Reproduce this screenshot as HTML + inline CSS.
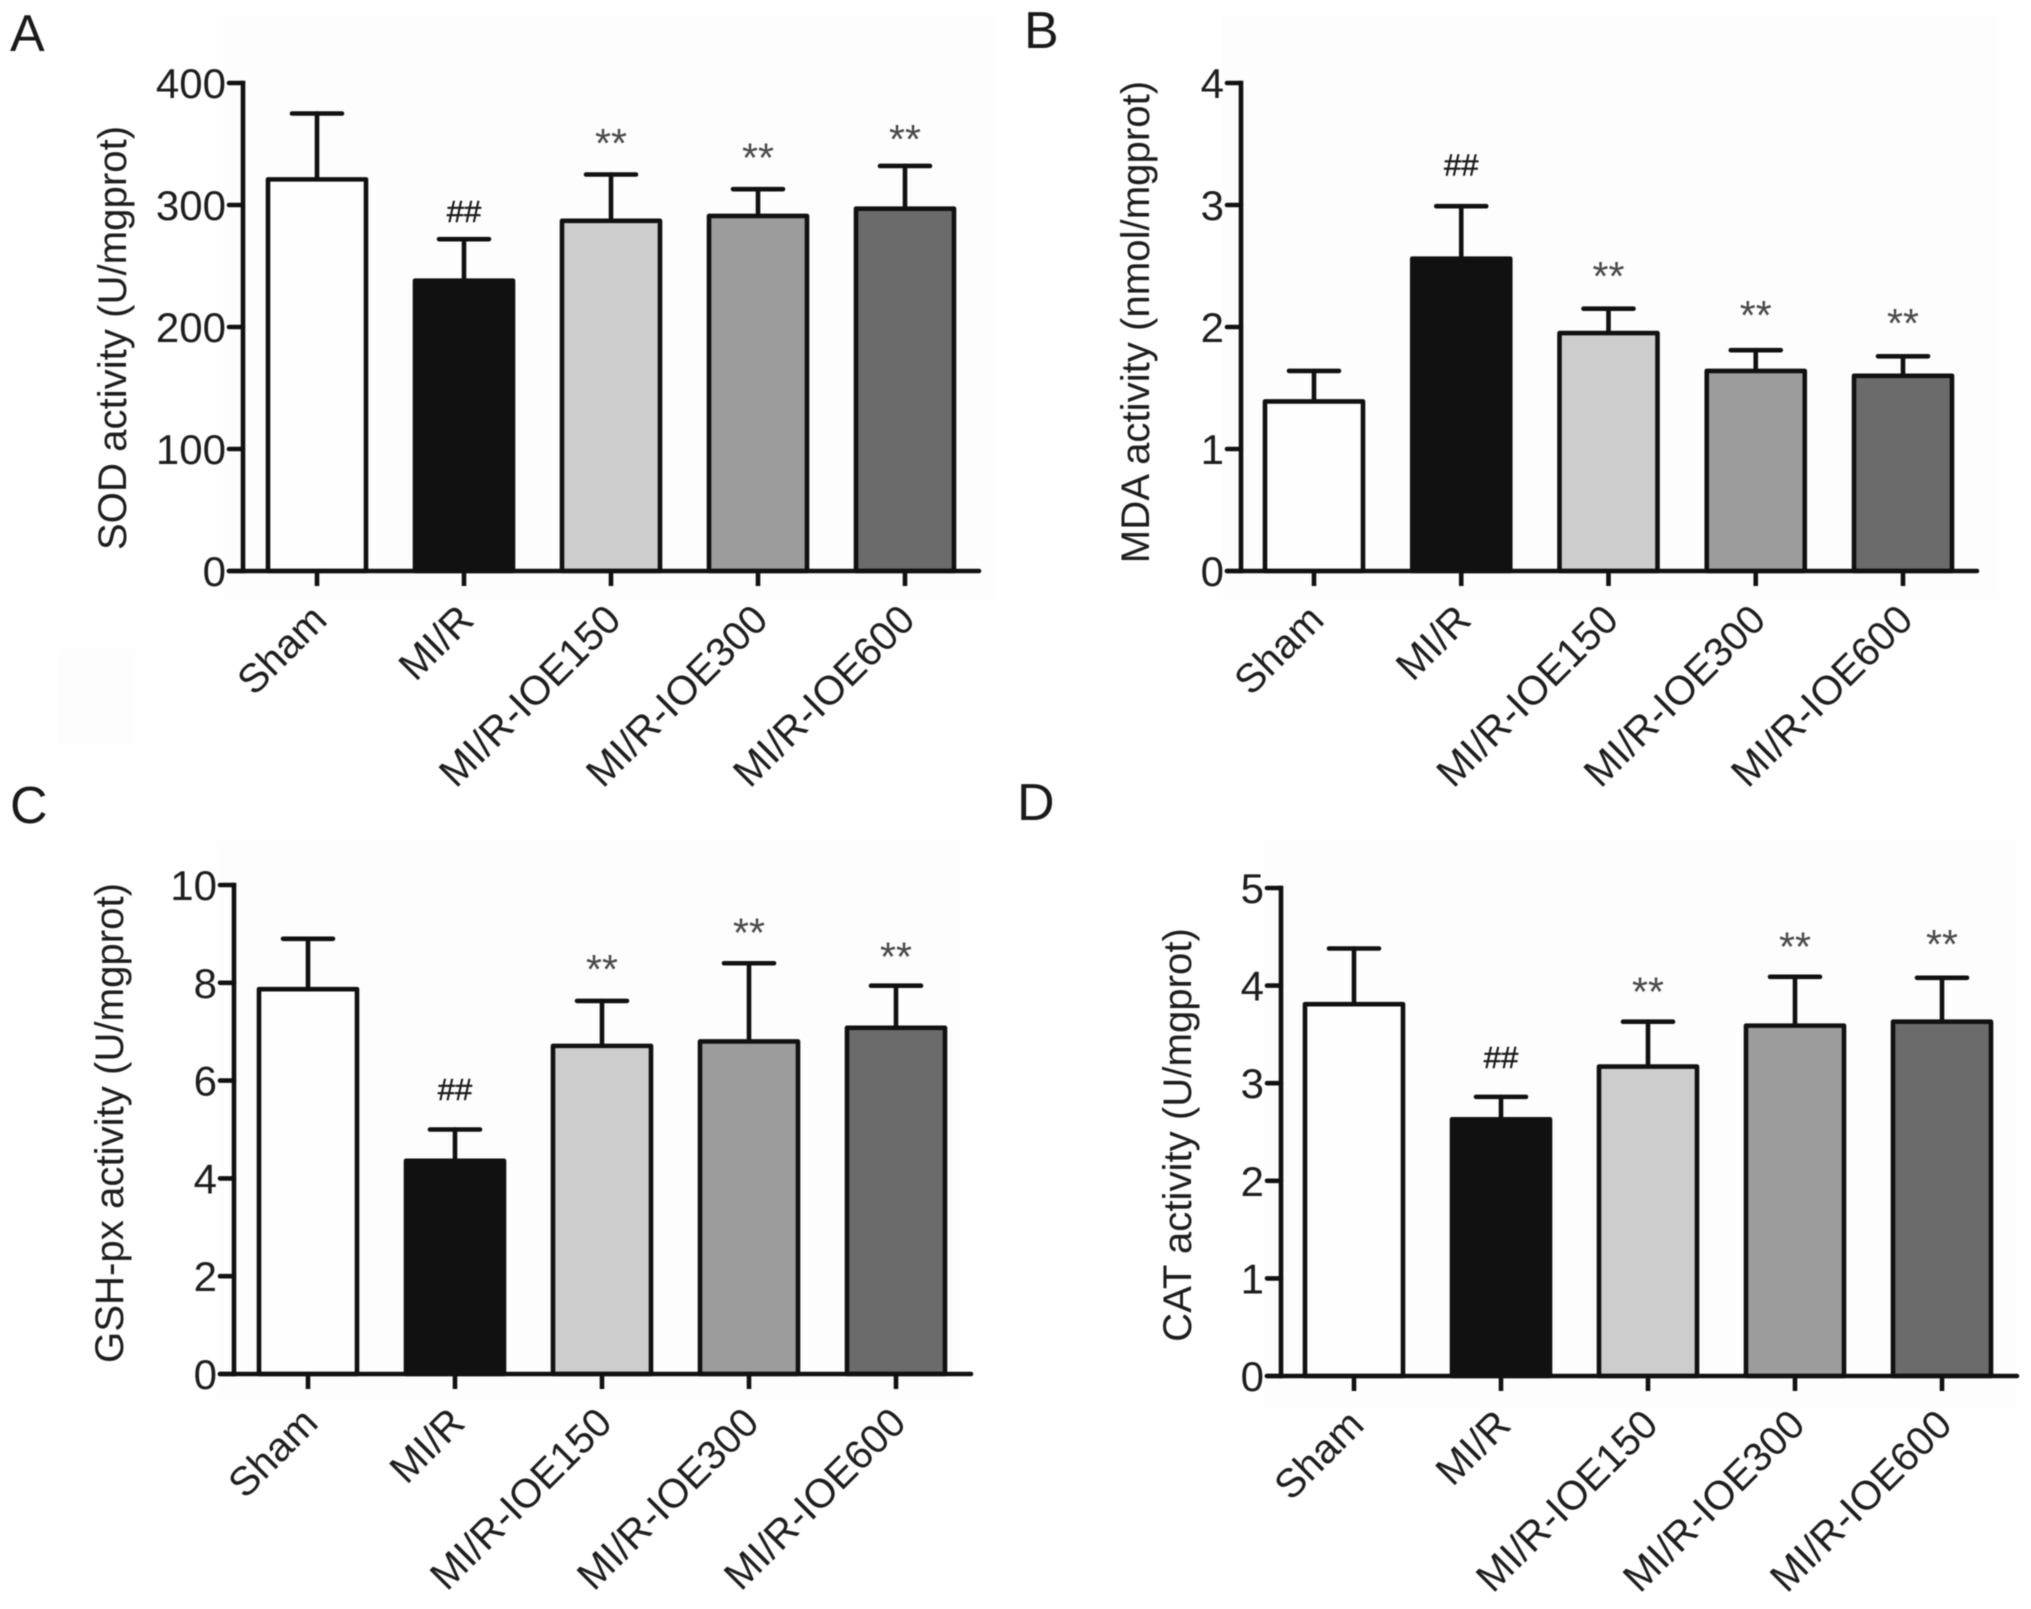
<!DOCTYPE html>
<html lang="en">
<head>
<meta charset="utf-8">
<title>Antioxidant activity bar charts</title>
<style>
html,body{margin:0;padding:0;background:#fff}
#figure{display:block;width:2031px;height:1609px;filter:blur(.55px)}
text{font-family:"Liberation Sans",Arial,sans-serif}
</style>
</head>
<body>
<svg id="figure" xmlns="http://www.w3.org/2000/svg" width="2031" height="1609" viewBox="0 0 2031 1609">
  <rect x="0" y="0" width="2031" height="1609" fill="#ffffff"/>
  <rect x="58" y="649" width="77" height="96" fill="#fdfdfd"/>
  <text x="10" y="51" font-size="52" fill="#1a1a1a">A</text>
  <text x="1024" y="48" font-size="52" fill="#1a1a1a">B</text>
  <text x="10" y="823" font-size="52" fill="#1a1a1a">C</text>
  <text x="1017" y="820" font-size="52" fill="#1a1a1a">D</text>
</svg>
<script>
var categories = ['Sham', 'MI/R', 'MI/R-IOE150', 'MI/R-IOE300', 'MI/R-IOE600'];
var barFills = ['#fefefe', '#111111', '#cdcdcd', '#9c9c9c', '#6b6b6b'];
var markers = ['', '##', '**', '**', '**'];

var sodTicks = [0, 100, 200, 300, 400];
var sodMeans = [321, 238, 287, 291, 297];
var sodErrorTops = [375, 272, 325, 313, 332];
var sodMarkerLevels = [0, 295, 355, 343, 358];

var mdaTicks = [0, 1, 2, 3, 4];
var mdaMeans = [1.39, 2.56, 1.95, 1.64, 1.60];
var mdaErrorTops = [1.64, 2.99, 2.15, 1.81, 1.76];
var mdaMarkerLevels = [0, 3.33, 2.46, 2.14, 2.075];

var gshTicks = [0, 2, 4, 6, 8, 10];
var gshMeans = [7.87, 4.36, 6.71, 6.80, 7.08];
var gshErrorTops = [8.90, 5.00, 7.63, 8.40, 7.94];
var gshMarkerLevels = [0, 5.83, 8.38, 9.13, 8.64];

var catTicks = [0, 1, 2, 3, 4, 5];
var catMeans = [3.81, 2.63, 3.17, 3.59, 3.63];
var catErrorTops = [4.38, 2.86, 3.63, 4.09, 4.08];
var catMarkerLevels = [0, 3.27, 3.99, 4.45, 4.48];

var SVG_NS = 'http://www.w3.org/2000/svg';
var figure = document.getElementById('figure');
var INK = '#111111';
var TEXT_INK = '#1e1e1e';
var LINE_WIDTH = 4.6;

function make(parent, tag, attrs, content) {
  var el = document.createElementNS(SVG_NS, tag);
  for (var key in attrs) el.setAttribute(key, attrs[key]);
  if (content !== undefined) el.textContent = content;
  parent.appendChild(el);
  return el;
}

function drawLine(parent, x1, y1, x2, y2, cap) {
  return make(parent, 'line', {
    x1: x1, y1: y1, x2: x2, y2: y2,
    stroke: INK, 'stroke-width': LINE_WIDTH, 'stroke-linecap': cap || 'round'
  });
}

function drawPanel(key, layout, title, ticks, means, errorTops, markerLevels) {
  var maxTick = ticks[ticks.length - 1];
  function yScale(v) { return layout.y0 - (v / maxTick) * (layout.y0 - layout.yTop); }
  function xScale(i) { return layout.x0 + i * layout.step; }

  var group = make(figure, 'g', {});
  
  

  var backdrop = make(group, 'rect', {
    x: layout.bgX, y: layout.bgY, width: layout.bgW, height: layout.bgH, fill: '#fdfdfd'
  });
  
  

  means.forEach(function (mean, i) {
    var cx = xScale(i);
    var top = yScale(mean);
    var errTop = yScale(errorTops[i]);

    var whisker = drawLine(group, cx, top, cx, errTop);
    
    

    var cap = drawLine(group, cx - 25, errTop, cx + 25, errTop);
    
    

    var bar = make(group, 'rect', {
      x: cx - 49, y: top, width: 98, height: layout.y0 - top,
      fill: barFills[i], stroke: INK, 'stroke-width': LINE_WIDTH, 'stroke-linejoin': 'round'
    });
    
    

    if (markers[i]) {
      var isHash = markers[i] === '##';
      var size = isHash ? 31 : 41;
      var marker = make(group, 'text', {
        x: cx,
        y: yScale(markerLevels[i]) + (isHash ? 11 : 19),
        'font-size': size,
        'text-anchor': 'middle',
        fill: isHash ? '#1c1c1c' : '#4a4a4a',
        stroke: isHash ? '#1c1c1c' : 'none',
        'stroke-width': isHash ? 0.5 : 0
      }, markers[i]);
      
      
    }

    var xTick = drawLine(group, cx, layout.y0, cx, layout.y0 + 15, 'butt');
    
    

    var lx = cx + 12;
    var ly = layout.y0 + 51;
    var label = make(group, 'text', {
      x: lx, y: ly,
      'font-size': 40.5,
      'text-anchor': 'end',
      fill: TEXT_INK,
      transform: 'rotate(-45 ' + lx + ' ' + ly + ')'
    }, categories[i]);
    
    
  });

  var yAxis = drawLine(group, layout.axisX, yScale(maxTick), layout.axisX, layout.y0, 'square');
  
  

  var xAxis = drawLine(group, layout.axisX - 14, layout.y0, layout.xEnd, layout.y0);
  
  

  ticks.forEach(function (tick) {
    var ty = yScale(tick);
    var yTick = drawLine(group, layout.axisX - 14, ty, layout.axisX, ty);
    
    

    var tickLabel = make(group, 'text', {
      x: layout.axisX - 17, y: ty + 15,
      'font-size': 42,
      'text-anchor': 'end',
      fill: TEXT_INK
    }, String(tick));
    
    
  });

  var yTitle = make(group, 'text', {
    x: layout.titleX, y: layout.titleY,
    'font-size': 40.2,
    'text-anchor': 'middle',
    fill: TEXT_INK,
    transform: 'rotate(-90 ' + layout.titleX + ' ' + layout.titleY + ')'
  }, title);
  
  
}

drawPanel('a',
  { x0: 317, step: 147, y0: 571, yTop: 83, axisX: 243, xEnd: 979, titleX: 126, titleY: 338,
    bgX: 223, bgY: 15, bgW: 773, bgH: 584 },
  'SOD activity (U/mgprot)', sodTicks, sodMeans, sodErrorTops, sodMarkerLevels);

drawPanel('b',
  { x0: 1314, step: 147.25, y0: 571, yTop: 83, axisX: 1241, xEnd: 1977, titleX: 1149, titleY: 322,
    bgX: 1222, bgY: 15, bgW: 777, bgH: 584 },
  'MDA activity (nmol/mgprot)', mdaTicks, mdaMeans, mdaErrorTops, mdaMarkerLevels);

drawPanel('c',
  { x0: 308, step: 147, y0: 1374, yTop: 885, axisX: 234, xEnd: 971, titleX: 123, titleY: 1123,
    bgX: 217, bgY: 841, bgW: 743, bgH: 559 },
  'GSH-px activity (U/mgprot)', gshTicks, gshMeans, gshErrorTops, gshMarkerLevels);

drawPanel('d',
  { x0: 1354, step: 147, y0: 1376, yTop: 888, axisX: 1281, xEnd: 2017, titleX: 1191, titleY: 1135,
    bgX: 1264, bgY: 841, bgW: 752, bgH: 566 },
  'CAT activity (U/mgprot)', catTicks, catMeans, catErrorTops, catMarkerLevels);
</script>
</body>
</html>
